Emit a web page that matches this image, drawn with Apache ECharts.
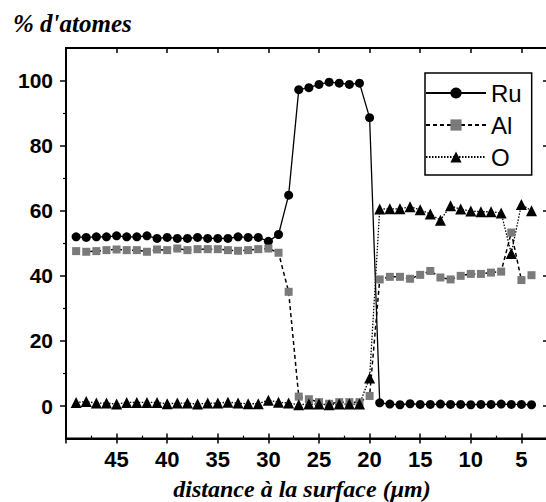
<!DOCTYPE html>
<html>
<head>
<meta charset="utf-8">
<script src="https://cdn.jsdelivr.net/npm/echarts@6/dist/echarts.min.js"></script>
<style>html,body{margin:0;padding:0;background:#fff}#c{width:546px;height:502px}</style>
</head>
<body>
<div id="c"></div>
<script>
// distance from surface (µm) for each measurement point
const distances = [49,48,47,46,45,44,43,42,41,40,39,38,37,36,35,34,33,32,31,30,29,28,27,26,25,24,23,22,21,20,19,18,17,16,15,14,13,12,11,10,9,8,7,6,5,4];
const ruValues = [52.0,51.8,52.0,52.0,52.3,52.0,52.0,52.3,51.5,51.8,51.5,51.5,51.8,51.5,51.5,51.5,52.0,51.8,51.8,50.6,52.7,64.8,97.2,97.8,98.8,99.5,99.2,98.8,99.2,88.6,1.0,0.6,0.4,0.7,0.5,0.5,0.6,0.5,0.5,0.4,0.5,0.5,0.6,0.5,0.5,0.4];
const alValues = [47.6,47.4,47.6,47.9,48.1,47.9,47.9,47.4,48.1,47.9,48.4,47.9,48.2,48.2,48.2,47.9,47.7,47.9,48.2,48.4,47.1,35.1,2.9,2.1,1.2,0.7,1.2,1.2,1.2,3.1,38.9,39.7,39.7,39.1,40.3,41.5,39.5,38.9,40.0,40.6,40.6,41.0,41.3,53.3,38.7,40.2];
const oValues = [1.1,1.4,0.9,0.9,0.6,1.1,1.1,1.1,1.1,0.7,0.9,0.9,0.6,0.9,0.9,1.2,0.9,0.7,0.7,1.8,1.2,0.9,0.4,0.6,0.6,0.4,0.6,0.6,0.6,8.6,60.5,60.6,60.6,61.2,60.3,59.0,57.1,61.5,60.5,59.9,59.7,59.7,59.3,46.9,61.9,60.0];
const yMajorTicks = [0,20,40,60,80,100];
const yMinorTicks = [10,30,50,70,90];
const seriesNames = ['Ru','Al','O'];

const chart = echarts.init(document.getElementById('c'), null, {renderer:'svg'});
const black = '#000';
const sans = 'Liberation Sans';
const serif = 'Liberation Serif';
const pairs = vals => distances.map((d,i)=>[d, vals[i]]);

const xBase = {type:'value', min:0, max:50, interval:5, inverse:true, splitLine:{show:false}, gridIndex:0};
const yBase = {type:'value', min:-10, max:110, splitLine:{show:false}, gridIndex:0};

chart.setOption({
  backgroundColor:'#fff',
  animation:false,
  title:{text:"% d'atomes", left:8, top:6, textStyle:{fontFamily:serif, fontStyle:'italic', fontWeight:'bold', fontSize:25, color:black}},
  grid:{left:66, width:506, top:48, height:390.6, containLabel:false, outerBoundsMode:'none',
    show:true, borderColor:black, borderWidth:2, backgroundColor:'transparent'},
  legend:{
    data:seriesNames, orient:'vertical', left:425, top:73, itemWidth:60, itemHeight:14, itemGap:8,
    padding:[8,10,6,0], borderColor:black, borderWidth:1.5, backgroundColor:'#fff',
    textStyle:{fontFamily:sans, fontSize:24, color:black}
  },
  xAxis:[
    Object.assign({}, xBase, {position:'bottom',
      axisLine:{show:true, onZero:false, lineStyle:{color:black, width:2}},
      axisTick:{show:true, inside:false, length:5, lineStyle:{color:black, width:1.5}},
      axisLabel:{show:true, margin:10, color:black, fontFamily:sans, fontWeight:'bold', fontSize:22,
        formatter:v => (v===0||v===50)?'':String(v)},
      name:'distance à la surface (μm)', nameLocation:'middle', nameGap:38,
      nameTextStyle:{fontFamily:serif, fontStyle:'italic', fontWeight:'bold', fontSize:24, color:black, padding:[0,34,0,0]}
    }),
    Object.assign({}, xBase, {position:'bottom',
      axisLine:{show:false, onZero:false},
      axisTick:{show:true, inside:true, length:5, lineStyle:{color:black, width:1.5}},
      minorTick:{show:true, splitNumber:2, length:3, lineStyle:{color:black, width:1.2}},
      axisLabel:{show:false}
    }),
    Object.assign({}, xBase, {position:'top',
      axisLine:{show:true, onZero:false, lineStyle:{color:black, width:2}},
      axisTick:{show:true, inside:true, length:5, lineStyle:{color:black, width:1.5}},
      axisLabel:{show:false}
    })
  ],
  yAxis:[
    Object.assign({}, yBase, {position:'left',
      axisLine:{show:true, onZero:false, lineStyle:{color:black, width:2}},
      axisTick:{show:true, inside:false, length:6, customValues:yMajorTicks, lineStyle:{color:black, width:1.5}},
      axisLabel:{show:true, customValues:yMajorTicks, margin:13, color:black, fontFamily:sans, fontWeight:'bold', fontSize:21}
    }),
    Object.assign({}, yBase, {position:'left',
      axisLine:{show:false, onZero:false},
      axisTick:{show:true, inside:false, length:3, customValues:yMinorTicks, lineStyle:{color:black, width:1.2}},
      axisLabel:{show:false}
    }),
    Object.assign({}, yBase, {position:'right', offset:-24,
      axisLine:{show:false, onZero:false},
      axisTick:{show:true, inside:true, length:5, customValues:yMajorTicks, lineStyle:{color:black, width:1.5}},
      axisLabel:{show:false}
    })
  ],
  series:[
    {name:'Ru', type:'line', xAxisIndex:0, yAxisIndex:0, data:pairs(ruValues),
      symbol:'circle', symbolSize:9, itemStyle:{color:black},
      lineStyle:{color:black, width:1.3, type:'solid'}},
    {name:'Al', type:'line', xAxisIndex:0, yAxisIndex:0, data:pairs(alValues),
      symbol:'rect', symbolSize:8, itemStyle:{color:'#7a7a7a'},
      lineStyle:{color:black, width:1.5, type:[4,3]}},
    {name:'O', type:'line', xAxisIndex:0, yAxisIndex:0, data:pairs(oValues),
      symbol:'triangle', symbolSize:11, itemStyle:{color:black},
      lineStyle:{color:black, width:1.3, type:[1.5,1.5]}}
  ]
});
</script>
</body>
</html>
